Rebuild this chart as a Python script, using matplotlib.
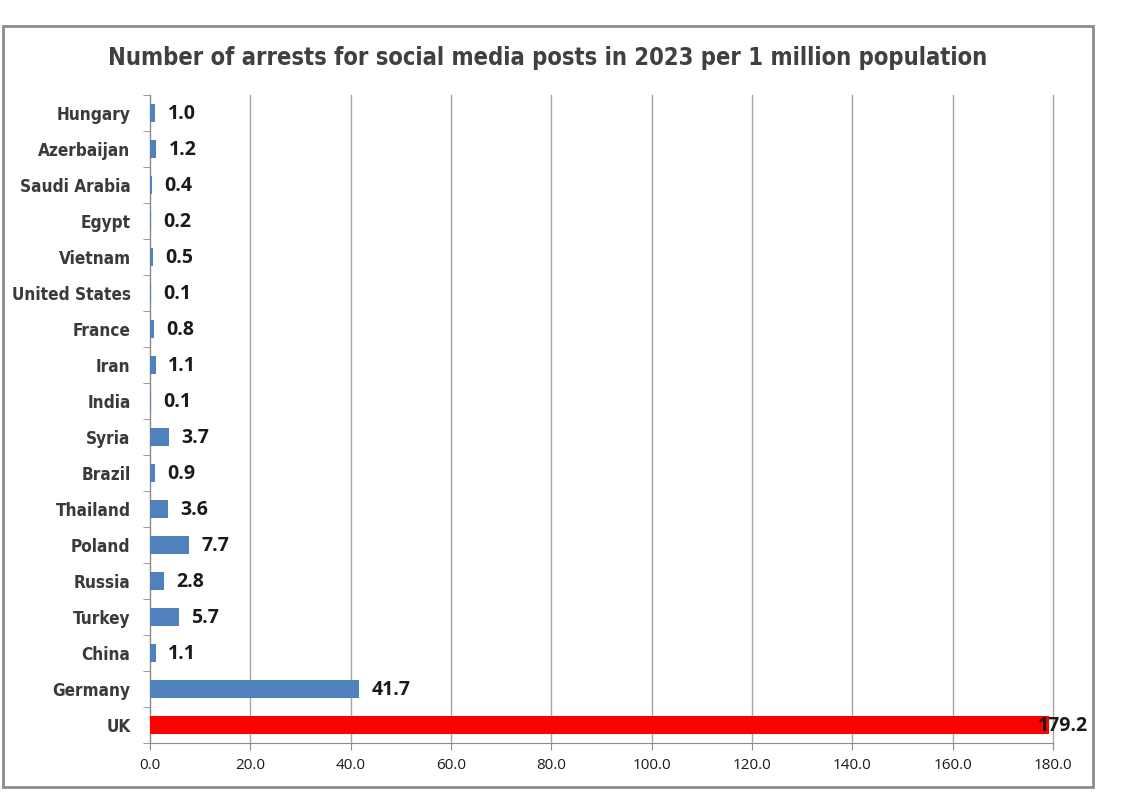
import numpy as np
import matplotlib.pyplot as plt
from matplotlib.patches import Rectangle
from matplotlib.ticker import FixedLocator

countries = ["Hungary", "Azerbaijan", "Saudi Arabia", "Egypt", "Vietnam",
             "United States", "France", "Iran", "India", "Syria", "Brazil",
             "Thailand", "Poland", "Russia", "Turkey", "China", "Germany", "UK"]
arrests = [1.0, 1.2, 0.4, 0.2, 0.5, 0.1, 0.8, 1.1, 0.1, 3.7, 0.9,
           3.6, 7.7, 2.8, 5.7, 1.1, 41.7, 179.2]
x_ticks = [0, 20, 40, 60, 80, 100, 120, 140, 160, 180]

fig = plt.figure(figsize=(11.36, 8.08), dpi=100)
ax = fig.add_axes([150 / 1136, 65 / 808, 903 / 1136, 648 / 808])

# outer chart border
fig.patches.append(Rectangle((3 / 1136, 21 / 808), 1090 / 1136, 761 / 808,
                             transform=fig.transFigure, fill=False,
                             edgecolor="#8c8c8c", lw=2))

y = np.arange(len(countries))
colors = ["#4f81bd"] * (len(countries) - 1) + ["#ff0000"]
ax.barh(y, arrests, height=0.5, color=colors, zorder=3)

for yi, v in zip(y, arrests):
    ax.annotate(f"{v:.1f}", (v, yi), xytext=(9 if v < 100 else -8, -1),
                textcoords="offset points", va="center", ha="left",
                fontsize=14, fontweight="bold", family="Open Sans",
                color="#1a1a1a", zorder=4)

ax.set_ylim(len(countries) - 0.5, -0.5)
ax.set_xlim(0, 180)
ax.set_yticks(y)
ax.set_yticklabels(countries, fontsize=12.3, fontweight="heavy",
                   family="DejaVu Sans", fontstretch="condensed",
                   color="#3a3a3a")
ax.yaxis.set_minor_locator(FixedLocator(np.arange(-0.5, len(countries), 1)))
ax.tick_params(axis="y", which="major", length=0, pad=14)
ax.tick_params(axis="y", which="minor", length=5, color="#8c8c8c")

ax.xaxis.set_major_locator(FixedLocator(x_ticks))
ax.set_xticklabels([f"{t:.1f}" for t in x_ticks], fontsize=11,
                   family="Open Sans", color="#1a1a1a")
ax.tick_params(axis="x", length=5, color="#8c8c8c", pad=6)

ax.grid(axis="x", color="#a6a6a6", lw=1, zorder=0)
for gl in ax.get_xgridlines():
    gl.set_clip_on(False)
for s in ["top", "right"]:
    ax.spines[s].set_visible(False)
for s in ["left", "bottom"]:
    ax.spines[s].set_color("#8c8c8c")

fig.text(548 / 1136, 1 - 58 / 808,
         "Number of arrests for social media posts in 2023 per 1 million population",
         ha="center", va="center", fontsize=17, fontweight="heavy",
         family="DejaVu Sans", fontstretch="condensed", color="#404040")

fig.savefig("out.png", dpi=100)
